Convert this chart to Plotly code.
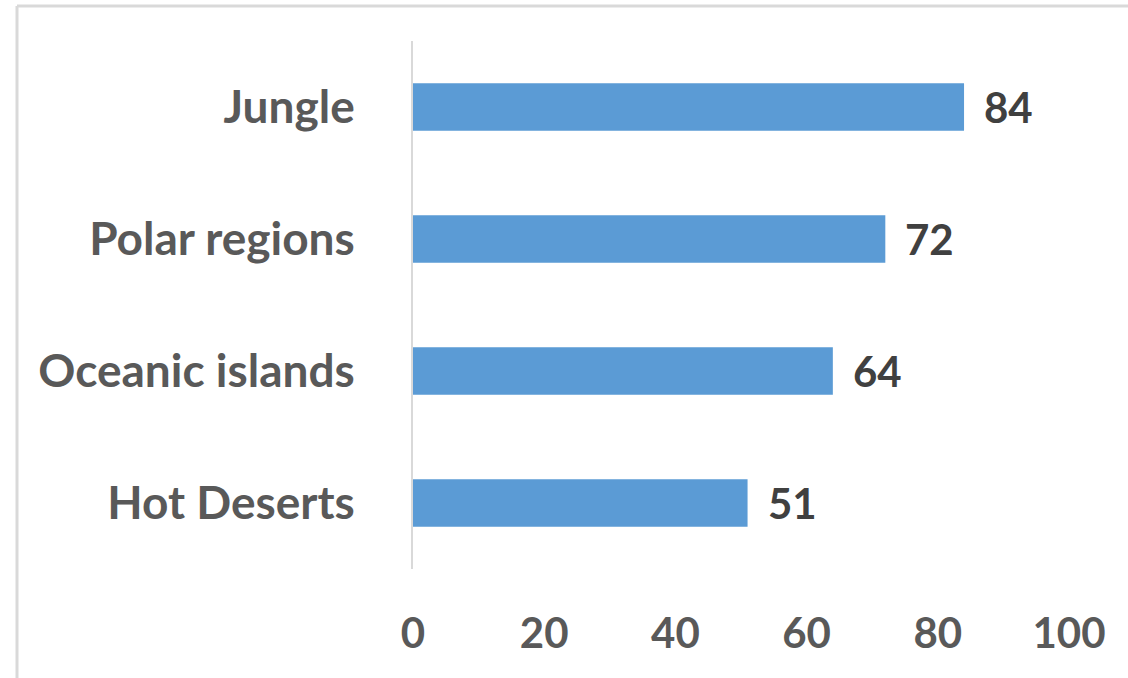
import plotly.graph_objects as go

categories = ["Jungle", "Polar regions", "Oceanic islands", "Hot Deserts"]
values = [84, 72, 64, 51]
x_ticks = [0, 20, 40, 60, 80, 100]

W, H = 1128, 678
ML, MR, MT, MB = 413, 59, 41, 109
pw, ph = W - ML - MR, H - MT - MB

fig = go.Figure()
fig.add_trace(go.Bar(
    y=categories, x=values, orientation="h",
    marker=dict(color="#5B9BD5", line=dict(width=0)),
    width=0.36, hoverinfo="skip",
))

for c, v in zip(categories, values):
    fig.add_annotation(x=v, y=c, xref="x", yref="y", text=str(v),
                       showarrow=False, xanchor="left", yanchor="middle",
                       xshift=18,
                       font=dict(family="Lato", size=42, color="#404040", weight="bold"))

# chart border (top and left edges visible)
def px_to_paper_x(px):
    return (px - ML) / pw

def px_to_paper_y(py):
    return 1 - (py - MT) / ph

fig.add_shape(type="line", xref="paper", yref="paper",
              x0=px_to_paper_x(17), x1=px_to_paper_x(W + 5),
              y0=px_to_paper_y(6), y1=px_to_paper_y(6),
              line=dict(color="#D9D9D9", width=3))
fig.add_shape(type="line", xref="paper", yref="paper",
              x0=px_to_paper_x(17), x1=px_to_paper_x(17),
              y0=px_to_paper_y(6), y1=px_to_paper_y(H + 5),
              line=dict(color="#D9D9D9", width=3))

fig.update_layout(
    width=W, height=H,
    margin=dict(l=ML, r=MR, t=MT, b=MB, pad=0),
    paper_bgcolor="white", plot_bgcolor="white",
    showlegend=False,
    bargap=0.64,
    xaxis=dict(range=[0, 100], tickvals=x_ticks, ticktext=[str(t) for t in x_ticks],
               showgrid=False, zeroline=False, showline=False, ticks="",
               ticklabelstandoff=36,
               tickfont=dict(family="Lato", size=42, color="#595959", weight="bold")),
    yaxis=dict(autorange="reversed", showgrid=False, zeroline=False,
               showline=True, linecolor="#D9D9D9", linewidth=2, ticks="",
               ticklabelstandoff=47,
               tickfont=dict(family="Lato", size=46, color="#595959", weight="bold")),
)

fig.write_html("out.html", config={"displayModeBar": False},
               post_script="document.body.style.margin='0px';document.body.style.overflow='hidden';")
